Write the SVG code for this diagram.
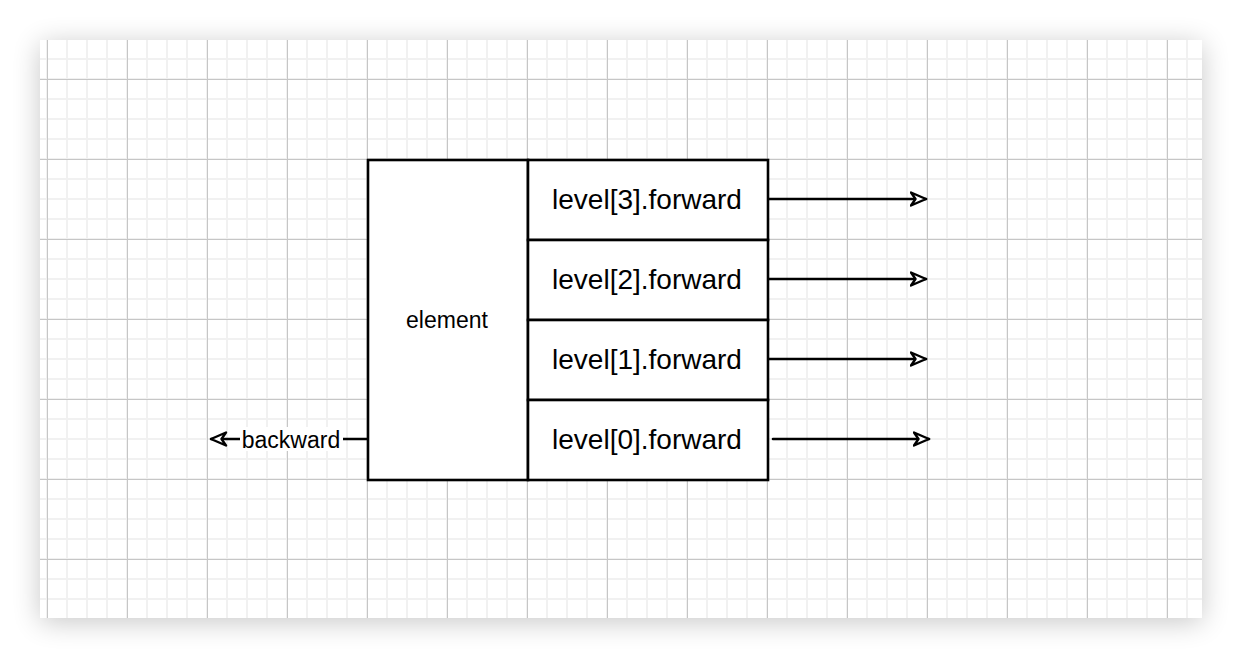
<svg xmlns="http://www.w3.org/2000/svg" width="1242" height="658" viewBox="0 0 1242 658">
  <defs>
    <filter id="shadow" x="-10%" y="-10%" width="120%" height="120%">
      <feGaussianBlur stdDeviation="14"/>
    </filter>
    <pattern id="minor" patternUnits="userSpaceOnUse" x="46" y="78" width="20" height="20">
      <rect x="0" y="0" width="2" height="20" fill="#f1f1f1"/>
      <rect x="0" y="0" width="20" height="2" fill="#f1f1f1"/>
    </pattern>
    <pattern id="major" patternUnits="userSpaceOnUse" x="47" y="79" width="80" height="80">
      <rect x="0" y="0" width="1" height="80" fill="#c6c6c6"/>
      <rect x="0" y="0" width="80" height="1" fill="#c6c6c6"/>
    </pattern>
    <marker id="open" viewBox="0 0 18 16" refX="16.5" refY="8" markerWidth="18" markerHeight="16" markerUnits="userSpaceOnUse" orient="auto">
      <path d="M1.5,1.5 L16.5,8 L1.5,14.5 L6,8 Z" fill="#fff" stroke="#000" stroke-width="2.4" stroke-linejoin="round"/>
    </marker>
    <style>
      .box { fill: #fff; stroke: #000; stroke-width: 2.6; stroke-linecap: round; }
      .edge { fill: none; stroke: #000; stroke-width: 2.6; stroke-linecap: round; }
      .lbl { font-family: "Liberation Sans", Arial, sans-serif; fill: #000; text-anchor: middle; }
      .big { font-size: 28px; }
      .small { font-size: 23px; }
    </style>
  </defs>

  <rect width="1242" height="658" fill="#fff"/>
  <rect x="40" y="44" width="1162" height="578" fill="#000" opacity="0.22" filter="url(#shadow)"/>
  <rect x="40" y="40" width="1162" height="578" fill="#fff"/>
  <rect x="40" y="40" width="1162" height="578" fill="url(#minor)"/>
  <rect x="40" y="40" width="1162" height="578" fill="url(#major)"/>

  <g id="element">
    <rect class="box" x="368" y="160" width="160" height="320"/>
    <text class="lbl small" x="447" y="328">element</text>
  </g>
  <g id="level3">
    <rect class="box" x="528" y="160" width="240" height="80"/>
    <text class="lbl big" x="647" y="209">level[3].forward</text>
  </g>
  <g id="level2">
    <rect class="box" x="528" y="240" width="240" height="80"/>
    <text class="lbl big" x="647" y="289">level[2].forward</text>
  </g>
  <g id="level1">
    <rect class="box" x="528" y="320" width="240" height="80"/>
    <text class="lbl big" x="647" y="369">level[1].forward</text>
  </g>
  <g id="level0">
    <rect class="box" x="528" y="400" width="240" height="80"/>
    <text class="lbl big" x="647" y="449">level[0].forward</text>
  </g>

  <g id="connectors">
    <path class="edge" d="M769,199 L926,199" marker-end="url(#open)"/>
    <path class="edge" d="M769,279 L926,279" marker-end="url(#open)"/>
    <path class="edge" d="M769,359 L926,359" marker-end="url(#open)"/>
    <path class="edge" d="M773,439 L929,439" marker-end="url(#open)"/>
    <path class="edge" d="M367,439 L211,439" marker-end="url(#open)"/>
    <rect x="240" y="427" width="103" height="24" fill="#fff"/>
    <text class="lbl small" x="291" y="448">backward</text>
  </g>
</svg>
